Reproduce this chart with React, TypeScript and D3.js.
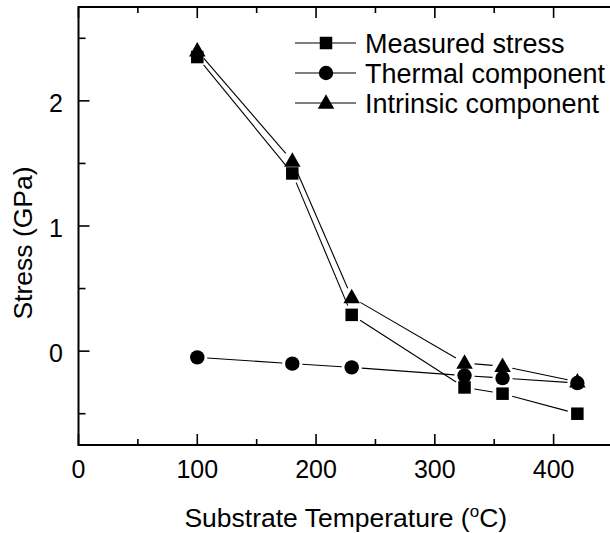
import React from "react";
import * as d3 from "d3";

// Substrate temperatures (°C)
const temperatures = [100, 180, 230, 325, 357, 420];
// Stress values (GPa)
const measuredStress = [2.35, 1.42, 0.29, -0.29, -0.34, -0.5];
const thermalComponent = [-0.05, -0.1, -0.13, -0.195, -0.215, -0.255];
const intrinsicComponent = [2.4, 1.52, 0.43, -0.095, -0.12, -0.245];

const seriesNames = ["Measured stress", "Thermal component", "Intrinsic component"];
const seriesShapes = ["square", "circle", "triangle"];

const xMajorTicks = [0, 100, 200, 300, 400];
const xMinorTicks = [50, 150, 250, 350, 450];
const yMajorTicks = [0, 1, 2];
const yMinorTicks = [-0.5, 0.5, 1.5, 2.5];

const W = 610;
const H = 533;
const left = 78.5;
const right = 613;
const top = 7;
const bottom = 445;

const FONT = "'Liberation Sans', Arial, sans-serif";

function Marker({ shape, x, y }: { shape: string; x: number; y: number }) {
  if (shape === "square") {
    const s = 12.5;
    return <rect x={x - s / 2} y={y - s / 2} width={s} height={s} fill="#000" />;
  }
  if (shape === "circle") {
    return <circle cx={x} cy={y} r={7.2} fill="#000" />;
  }
  const w = 16.5;
  const h = 14.5;
  const pts = [
    [x, y - h * 0.6],
    [x - w / 2, y + h * 0.4],
    [x + w / 2, y + h * 0.4],
  ];
  return <polygon points={pts.map((p) => p.join(",")).join(" ")} fill="#000" />;
}

export default function App() {
  const x = d3.scaleLinear().domain([0, 450]).range([left, right]);
  const y = d3.scaleLinear().domain([-0.75, 2.75]).range([bottom, top]);

  const series = [measuredStress, thermalComponent, intrinsicComponent];
  const gap = 10;

  // connecting segments stop short of each marker
  const segments = (vals: number[]) => {
    const out: JSX.Element[] = [];
    for (let i = 0; i < vals.length - 1; i++) {
      const x1 = x(temperatures[i]);
      const y1 = y(vals[i]);
      const x2 = x(temperatures[i + 1]);
      const y2 = y(vals[i + 1]);
      const len = Math.hypot(x2 - x1, y2 - y1);
      const ux = (x2 - x1) / len;
      const uy = (y2 - y1) / len;
      out.push(
        <line
          key={i}
          x1={x1 + ux * gap}
          y1={y1 + uy * gap}
          x2={x2 - ux * gap}
          y2={y2 - uy * gap}
          stroke="#000"
          strokeWidth={1.1}
        />
      );
    }
    return out;
  };

  const legendRows = [43, 73, 103];

  return (
    <svg
      width={W}
      height={H}
      style={{ position: "absolute", left: 0, top: 0, background: "#fff" }}
      fontFamily={FONT}
    >
      <rect x={0} y={0} width={W} height={H} fill="#fff" />

      {/* frame */}
      <line x1={left} x2={right} y1={bottom} y2={bottom} stroke="#000" strokeWidth={2} />
      <line x1={left} x2={right} y1={top} y2={top} stroke="#000" strokeWidth={2} />
      <line x1={left} x2={left} y1={top - 1} y2={bottom + 1} stroke="#000" strokeWidth={2} />
      <line x1={right} x2={right} y1={top} y2={bottom} stroke="#000" strokeWidth={2} />

      {/* x ticks (bottom and top, pointing inward) */}
      {xMajorTicks.map((t) => (
        <g key={"xm" + t}>
          <line x1={x(t)} x2={x(t)} y1={bottom} y2={bottom - 11} stroke="#000" strokeWidth={1.6} />
          <line x1={x(t)} x2={x(t)} y1={top} y2={top + 11} stroke="#000" strokeWidth={1.6} />
          <text x={x(t)} y={478} fontSize={25} textAnchor="middle" fill="#000">
            {t}
          </text>
        </g>
      ))}
      {xMinorTicks.map((t) => (
        <g key={"xn" + t}>
          <line x1={x(t)} x2={x(t)} y1={bottom} y2={bottom - 6} stroke="#000" strokeWidth={1.6} />
          <line x1={x(t)} x2={x(t)} y1={top} y2={top + 6} stroke="#000" strokeWidth={1.6} />
        </g>
      ))}

      {/* y ticks */}
      {yMajorTicks.map((t) => (
        <g key={"ym" + t}>
          <line x1={left} x2={left + 11} y1={y(t)} y2={y(t)} stroke="#000" strokeWidth={1.6} />
          <text x={63} y={y(t) + 11} fontSize={25} textAnchor="end" fill="#000">
            {t}
          </text>
        </g>
      ))}
      {yMinorTicks.map((t) => (
        <line key={"yn" + t} x1={left} x2={left + 7} y1={y(t)} y2={y(t)} stroke="#000" strokeWidth={1.6} />
      ))}

      {/* axis titles */}
      <text
        x={(left + right) / 2}
        y={527}
        fontSize={26.5}
        textAnchor="middle"
        fill="#000"
      >
        Substrate Temperature (<tspan dy={-10} fontSize={17}>o</tspan>
        <tspan dy={10}>C)</tspan>
      </text>
      <text
        transform={`translate(32, ${(top + bottom) / 2 + 17}) rotate(-90)`}
        fontSize={26.5}
        textAnchor="middle"
        fill="#000"
      >
        Stress (GPa)
      </text>

      {/* series */}
      {series.map((vals, si) => (
        <g key={"s" + si}>
          {segments(vals)}
          {vals.map((v, i) => (
            <Marker key={i} shape={seriesShapes[si]} x={x(temperatures[i])} y={y(v)} />
          ))}
        </g>
      ))}

      {/* legend */}
      {seriesNames.map((name, i) => (
        <g key={"lg" + i}>
          <line x1={295} x2={356} y1={legendRows[i]} y2={legendRows[i]} stroke="#000" strokeWidth={1.1} />
          <Marker shape={seriesShapes[i]} x={326} y={legendRows[i]} />
          <text x={365} y={legendRows[i] + 10} fontSize={27} fill="#000">
            {name}
          </text>
        </g>
      ))}
    </svg>
  );
}
